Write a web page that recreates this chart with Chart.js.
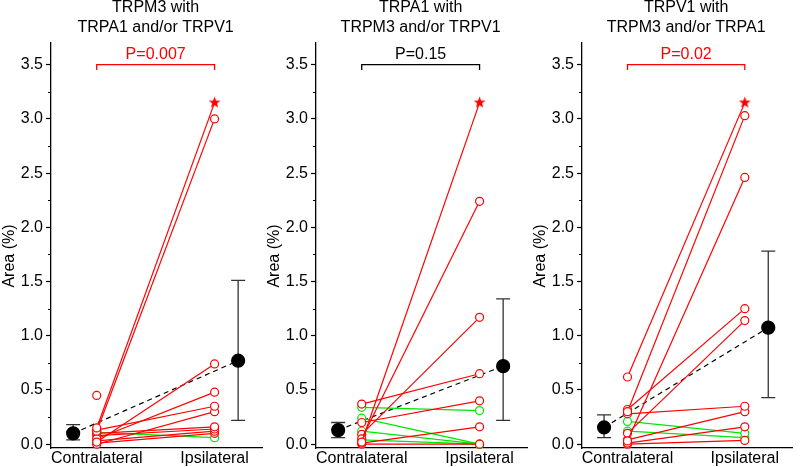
<!DOCTYPE html>
<html>
<head>
<meta charset="utf-8">
<script src="https://cdn.jsdelivr.net/npm/chart.js@4.4.0/dist/chart.umd.min.js"></script>
<style>
html, body { margin: 0; padding: 0; background: #fff; overflow: hidden; }
#wrap { position: relative; width: 800px; height: 467px; }
canvas { position: absolute; top: 0; }
</style>
</head>
<body>
<div id="wrap">
<canvas id="c0" width="270" height="467" style="left:0px"></canvas>
<canvas id="c1" width="270" height="467" style="left:265px"></canvas>
<canvas id="c2" width="269" height="467" style="left:531px"></canvas>
</div>
<script>
// panel texts
const panelTitles = [
    ["TRPM3 with", "TRPA1 and/or TRPV1"],
    ["TRPA1 with", "TRPM3 and/or TRPV1"],
    ["TRPV1 with", "TRPM3 and/or TRPA1"]
];
const pValues = [0.007, 0.15, 0.02];
const xLabels = ["Contralateral", "Ipsilateral"];
const yTicks = [0, 0.5, 1.0, 1.5, 2.0, 2.5, 3.0, 3.5];

// TRPM3 panel (first red pair is the starred one)
const m3RedContra = [0.15, 0.12, 0.45, 0.02, 0.05, 0.13, 0.00, 0.10, 0.08, 0.03, 0.01];
const m3RedIpsi   = [3.15, 3.00, null, 0.74, 0.48, 0.35, 0.30, 0.16, 0.14, 0.12, 0.10];
const m3GreenContra = [0.11];
const m3GreenIpsi   = [0.06];

// TRPA1 panel
const a1RedContra = [0.02, 0.05, 0.09, 0.37, 0.20, 0.01, 0.00];
const a1RedIpsi   = [3.15, 2.24, 1.17, 0.65, 0.40, 0.16, 0.00];
const a1GreenContra = [0.34, 0.24, 0.12, 0.04];
const a1GreenIpsi   = [0.31, 0.00, 0.00, 0.00];

// TRPV1 panel
const v1RedContra = [0.62, 0.30, 0.03, 0.32, 0.10, 0.28, 0.04, 0.01, 0.00];
const v1RedIpsi   = [3.15, 3.03, 2.46, 1.25, 1.14, 0.35, 0.30, 0.16, 0.035];
const v1GreenContra = [0.21, 0.12];
const v1GreenIpsi   = [0.10, 0.06];

// group means with error bars
const meanContra     = [0.10, 0.13, 0.155];
const meanContraLow  = [0.04, 0.06, 0.06];
const meanContraHigh = [0.18, 0.20, 0.27];
const meanIpsi       = [0.77, 0.72, 1.075];
const meanIpsiLow    = [0.22, 0.22, 0.43];
const meanIpsiHigh   = [1.51, 1.34, 1.78];

const redSets = [[m3RedContra, m3RedIpsi], [a1RedContra, a1RedIpsi], [v1RedContra, v1RedIpsi]];
const greenSets = [[m3GreenContra, m3GreenIpsi], [a1GreenContra, a1GreenIpsi], [v1GreenContra, v1GreenIpsi]];

const FONT = "'Liberation Sans', Arial, sans-serif";
const RED = "#ff0000";
const GREEN = "#00e600";
const PLOT_W = 217;
const AXIS_W = 51;

function makeStar(r) {
    const c = document.createElement("canvas");
    const s = Math.ceil(r * 2) + 2;
    c.width = s;
    c.height = s;
    const g = c.getContext("2d");
    g.fillStyle = RED;
    g.beginPath();
    for (let i = 0; i < 10; i++) {
        const rad = i % 2 ? r * 0.42 : r;
        const a = -Math.PI / 2 + i * Math.PI / 5;
        g.lineTo(s / 2 + rad * Math.cos(a), s / 2 + rad * Math.sin(a));
    }
    g.closePath();
    g.fill();
    return c;
}
const star = makeStar(6.2);

function pairDatasets(contra, ipsi, color, starIdx) {
    return contra.map((c, i) => ({
        data: [{x: 1, y: c}, {x: 2, y: ipsi[i]}],
        showLine: true,
        borderColor: color,
        borderWidth: 1.2,
        pointRadius: 4,
        pointBorderWidth: 1.2,
        pointBackgroundColor: "#fff",
        pointBorderColor: color,
        pointStyle: i === starIdx ? ["circle", star] : "circle",
        clip: false
    }));
}

function buildChart(k) {
    const canvas = document.getElementById("c" + k);
    const pColor = pValues[k] < 0.05 ? RED : "#000";

    const decor = {
        id: "decor",
        beforeDatasetsDraw(chart) {
            const ctx = chart.ctx, x = chart.scales.x, y = chart.scales.y;
            const bar = (xv, lo, hi) => {
                const px = x.getPixelForValue(xv);
                const pl = y.getPixelForValue(lo), ph = y.getPixelForValue(hi);
                ctx.save();
                ctx.strokeStyle = "#333";
                ctx.lineWidth = 1.3;
                ctx.beginPath();
                ctx.moveTo(px, pl); ctx.lineTo(px, ph);
                ctx.moveTo(px - 7, pl); ctx.lineTo(px + 7, pl);
                ctx.moveTo(px - 7, ph); ctx.lineTo(px + 7, ph);
                ctx.stroke();
                ctx.restore();
            };
            bar(0.8, meanContraLow[k], meanContraHigh[k]);
            bar(2.2, meanIpsiLow[k], meanIpsiHigh[k]);
        },
        afterDraw(chart) {
            const ctx = chart.ctx, x = chart.scales.x, y = chart.scales.y;
            const area = chart.chartArea;
            const x1 = x.getPixelForValue(1), x2 = x.getPixelForValue(2);
            ctx.save();
            ctx.font = "16px " + FONT;
            ctx.textAlign = "center";
            ctx.textBaseline = "middle";
            ctx.fillStyle = "#000";
            ctx.fillText(panelTitles[k][0], (x1 + x2) / 2, 8);
            ctx.fillText(panelTitles[k][1], (x1 + x2) / 2, 28);

            // significance bracket
            const yb = y.getPixelForValue(3.5), yt = y.getPixelForValue(3.45);
            ctx.strokeStyle = pColor;
            ctx.lineWidth = 1.3;
            ctx.beginPath();
            ctx.moveTo(x1, yt); ctx.lineTo(x1, yb); ctx.lineTo(x2, yb); ctx.lineTo(x2, yt);
            ctx.stroke();
            ctx.fillStyle = pColor;
            ctx.fillText("P=" + pValues[k], (x1 + x2) / 2, y.getPixelForValue(3.59));

            // minor ticks
            ctx.strokeStyle = "#000";
            ctx.lineWidth = 1.1;
            ctx.beginPath();
            for (let v = 0.25; v < 3.7; v += 0.5) {
                const py = Math.round(y.getPixelForValue(v)) + 0.5;
                ctx.moveTo(area.left - 3, py); ctx.lineTo(area.left, py);
            }
            ctx.stroke();

            // axis title
            ctx.fillStyle = "#000";
            ctx.translate(area.left - 41, 256);
            ctx.rotate(-Math.PI / 2);
            ctx.fillText("Area (%)", 0, 0);
            ctx.restore();
        }
    };

    const datasets = []
        .concat(pairDatasets(redSets[k][0], redSets[k][1], RED, 0))
        .concat(pairDatasets(greenSets[k][0], greenSets[k][1], GREEN, -1));
    datasets.push({
        data: [{x: 0.8, y: meanContra[k]}, {x: 2.2, y: meanIpsi[k]}],
        showLine: true,
        borderColor: "#000",
        borderWidth: 1.2,
        borderDash: [5, 4],
        pointRadius: 6.5,
        pointBackgroundColor: "#000",
        pointBorderColor: "#000",
        clip: false
    });

    return new Chart(canvas, {
        type: "scatter",
        data: {datasets: datasets},
        options: {
            responsive: false,
            animation: false,
            events: [],
            layout: {padding: {top: 43, left: 0, bottom: 0, right: canvas.width - AXIS_W - PLOT_W}},
            plugins: {legend: {display: false}, tooltip: {enabled: false}},
            scales: {
                x: {
                    type: "linear",
                    min: 0.612,
                    max: 2.405,
                    afterBuildTicks: s => { s.ticks = [{value: 1}, {value: 2}]; },
                    afterFit: s => { s.height = 19; },
                    ticks: {
                        callback: v => xLabels[v - 1],
                        autoSkip: false,
                        maxRotation: 0,
                        padding: 1,
                        color: "#000",
                        font: {family: FONT, size: 16}
                    },
                    grid: {drawOnChartArea: false, drawTicks: false},
                    border: {color: "#000", width: 1.3}
                },
                y: {
                    type: "linear",
                    min: -0.035,
                    max: 3.7,
                    afterBuildTicks: s => { s.ticks = yTicks.map(v => ({value: v})); },
                    afterFit: s => { s.width = AXIS_W; },
                    ticks: {
                        callback: v => v.toFixed(1),
                        padding: 3,
                        color: "#000",
                        font: {family: FONT, size: 16}
                    },
                    grid: {drawOnChartArea: false, tickLength: 5, tickColor: "#000", tickWidth: 1.2},
                    border: {color: "#000", width: 1.3}
                }
            }
        },
        plugins: [decor]
    });
}

[0, 1, 2].forEach(buildChart);
</script>
</body>
</html>
